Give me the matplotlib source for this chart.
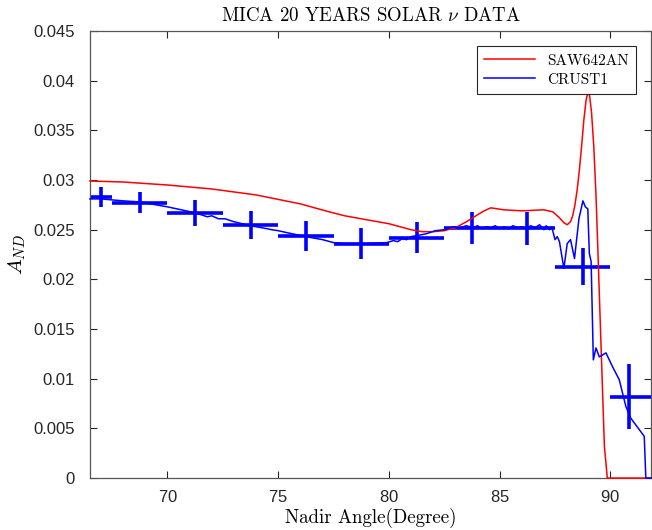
import matplotlib.pyplot as plt
import numpy as np
from matplotlib.ticker import FuncFormatter

# SAW642AN prediction
saw_x = [66.5, 68.0, 70.0, 72.0, 74.0, 76.0, 77.3, 78.0, 79.0, 80.0, 81.0, 81.5, 82.0,
         82.5, 83.0, 83.5, 84.0, 84.3, 84.6, 84.9, 85.2, 86.0, 87.0, 87.4, 87.7, 87.9,
         88.05, 88.2, 88.3, 88.4, 88.5, 88.6, 88.7, 88.8, 88.9, 88.98, 89.06, 89.15,
         89.25, 89.35, 89.43, 89.58, 89.73, 89.86, 91.85]
saw_y = [0.0299, 0.0298, 0.0295, 0.0291, 0.0285, 0.0276, 0.0268, 0.0264, 0.0260, 0.0256,
         0.0250, 0.0248, 0.0248, 0.0249, 0.0252, 0.0258, 0.0265, 0.0269, 0.0272, 0.0271,
         0.0270, 0.0269, 0.0270, 0.0268, 0.0262, 0.0257, 0.0255, 0.0258, 0.0264, 0.0275,
         0.0290, 0.0310, 0.0334, 0.0360, 0.0380, 0.0388, 0.0385, 0.0368, 0.0334, 0.0285,
         0.0233, 0.0132, 0.0032, 0.0, 0.0]

# CRUST1 prediction
crust_x = [66.5, 67.0, 68.0, 68.75, 70.0, 71.25, 71.8, 72.0, 72.3, 72.6, 73.0, 73.75,
           74.5, 74.7, 75.0, 75.4, 76.25, 77.0, 77.5, 78.0, 79.0, 79.9, 80.2, 80.4,
           80.6, 80.8, 81.0, 81.4, 81.7, 82.1, 82.5, 82.9, 83.2, 83.5, 83.8, 84.0,
           84.2, 84.4, 84.6, 84.8, 85.0, 85.2, 85.4, 85.6, 85.8, 86.0, 86.2, 86.4,
           86.6, 86.8, 87.0, 87.1, 87.25, 87.35, 87.5, 87.6, 87.7, 87.9, 88.05,
           88.2, 88.38, 88.58, 88.76, 88.87, 88.98, 89.05, 89.13, 89.23, 89.35,
           89.5, 89.8, 90.1, 90.4, 90.7, 90.93, 91.53, 91.6, 91.85]
crust_y = [0.0281, 0.0281, 0.0279, 0.0278, 0.0273, 0.0267, 0.0263, 0.0264, 0.0261,
           0.0261, 0.0258, 0.0254, 0.0251, 0.0250, 0.0249, 0.0247, 0.0243, 0.0240,
           0.0237, 0.0236, 0.0236, 0.0237, 0.0239, 0.0238, 0.0241, 0.0240, 0.0243,
           0.02446, 0.0246, 0.0249, 0.0250, 0.0253, 0.0252, 0.0254, 0.0252, 0.0254,
           0.0251, 0.0253, 0.0252, 0.0254, 0.0251, 0.0253, 0.0251, 0.0254, 0.0252,
           0.0253, 0.0251, 0.0254, 0.0252, 0.0255, 0.0250, 0.0254, 0.0250, 0.0253,
           0.0240, 0.0243, 0.0238, 0.0211, 0.0236, 0.0240, 0.0221, 0.0261, 0.0279,
           0.0273, 0.0271, 0.0226, 0.0218, 0.0119, 0.0131, 0.0122, 0.0126, 0.0112,
           0.0099, 0.0072, 0.0060, 0.0042, 0.0, 0.0]

# MICA 20-year data: bin centres, bin edges and errors
data_x = [67.0, 68.75, 71.25, 73.75, 76.25, 78.75, 81.25, 83.75, 86.25, 88.75, 90.85]
bin_lo = [65.0, 67.5, 70.0, 72.5, 75.0, 77.5, 80.0, 82.5, 85.0, 87.5, 90.0]
bin_hi = [67.5, 70.0, 72.5, 75.0, 77.5, 80.0, 82.5, 85.0, 87.5, 90.0, 92.5]
data_y = [0.02826, 0.02772, 0.02665, 0.02547, 0.02436, 0.02357, 0.02421, 0.02519,
          0.02513, 0.02127, 0.00819]
data_err = [0.0010, 0.00106, 0.0013, 0.00143, 0.0015, 0.00156, 0.0016, 0.00163,
            0.00168, 0.00185, 0.0033]

plt.rcParams['mathtext.fontset'] = 'cm'
plt.rcParams['font.family'] = 'Liberation Sans'
plt.rcParams['axes.formatter.use_mathtext'] = True

fig = plt.figure(figsize=(6.52, 5.30), dpi=100)
ax = fig.add_axes([0.138, 0.098, 0.861, 0.8435])

ax.plot(saw_x, saw_y, color='red', lw=1.1, label='SAW642AN', clip_on=False, zorder=3)
ax.plot(crust_x, crust_y, color='blue', lw=1.1, label='CRUST1', clip_on=False, zorder=3)

xerr = [np.array(data_x) - np.array(bin_lo), np.array(bin_hi) - np.array(data_x)]
ax.errorbar(data_x, data_y, xerr=xerr, yerr=data_err, fmt='none',
            ecolor='blue', elinewidth=2.6, capsize=0)

ax.set_xlim(66.5, 91.85)
ax.set_ylim(0, 0.045)
ax.set_xticks([70, 75, 80, 85, 90])
ax.set_yticks(np.arange(0, 0.0451, 0.005))
ax.yaxis.set_major_formatter(FuncFormatter(lambda v, p: '%g' % round(v, 4)))

ax.tick_params(direction='in', top=True, right=True, length=5, width=0.8,
               colors='#262626', labelsize=12)
ax.tick_params(axis='y', pad=11)
ax.tick_params(axis='x', pad=8)
for s in ax.spines.values():
    s.set_color('#555555')
    s.set_linewidth(0.9)

ax.set_title(r'MICA 20 YEARS SOLAR $\nu$ DATA', family='cmr10', fontsize=13.6, pad=7)
ax.set_xlabel('Nadir Angle(Degree)', family='cmr10', fontsize=13.6, labelpad=2)
ax.set_ylabel(r'$A_{ND}$', fontsize=15, labelpad=4)

leg = ax.legend(loc='upper right', prop={'family': 'cmr10', 'size': 11},
                handlelength=3.3, fancybox=False, framealpha=1, edgecolor='#262626',
                borderaxespad=1.0, borderpad=0.5, labelspacing=0.35)
leg.get_frame().set_linewidth(0.8)

fig.savefig('out.png', dpi=100)
